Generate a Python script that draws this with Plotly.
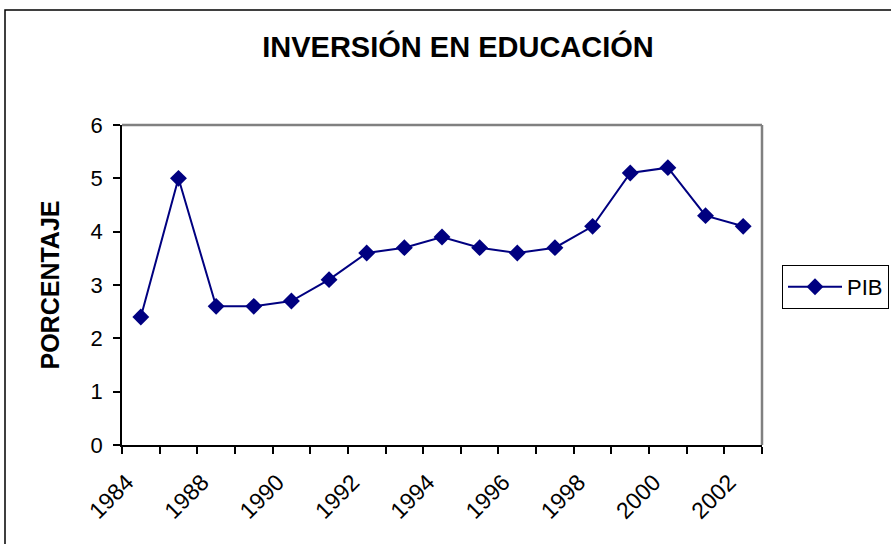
import plotly.graph_objects as go

years = ["1984", "1986", "1988", "1989", "1990", "1991", "1992", "1993", "1994",
         "1995", "1996", "1997", "1998", "1999", "2000", "2001", "2002"]
pib = [2.4, 5.0, 2.6, 2.6, 2.7, 3.1, 3.6, 3.7, 3.9, 3.7, 3.6, 3.7, 4.1, 5.1, 5.2, 4.3, 4.1]
tick_text = [y if i % 2 == 0 else "" for i, y in enumerate(years)]

W, H = 891, 544
L, R, T, B = 122, 129, 125, 99
pw, ph = W - L - R, H - T - B

def px(xp):
    return (xp - L) / pw

def py(yp):
    return (H - B - yp) / ph

fig = go.Figure()
fig.add_trace(go.Scatter(
    x=years, y=pib, name="PIB", mode="lines+markers",
    line=dict(color="#000080", width=2),
    marker=dict(symbol="diamond", size=13, color="#000080"),
))

font = "Liberation Sans, Arial, sans-serif"
fig.update_layout(
    width=W, height=H,
    margin=dict(l=L, r=R, t=T, b=B, autoexpand=False),
    paper_bgcolor="white", plot_bgcolor="white",
    font=dict(family=font, color="black"),
    title=dict(text="<b>INVERSIÓN EN EDUCACIÓN</b>", x=458 / W, xanchor="center",
               y=1 - 47 / H, yanchor="middle", font=dict(size=29, family=font, color="black")),
    showlegend=True,
    legend=dict(x=px(782), xanchor="left", y=py(265), yanchor="top",
                bordercolor="black", borderwidth=1, bgcolor="white",
                font=dict(size=22, family=font), itemwidth=54),
    xaxis=dict(type="category", tickmode="array", tickvals=years, ticktext=tick_text,
               tickson="boundaries", ticks="outside", ticklen=7, tickcolor="black",
               tickwidth=1.5, tickangle=-45, tickfont=dict(size=23),
               ticklabelstandoff=13, ticklabelshift=-14,
               showline=True, linecolor="black", linewidth=1.5, showgrid=False,
               range=[-0.5, len(years) - 0.5]),
    yaxis=dict(range=[0, 6], dtick=1, ticks="outside", ticklen=7, tickcolor="black",
               tickwidth=1.5, tickfont=dict(size=22), ticklabelstandoff=6,
               showline=True, linecolor="black", linewidth=1.5, showgrid=False,
               zeroline=False,
               title=dict(text="<b>PORCENTAJE</b>", font=dict(size=25), standoff=24)),
    shapes=[
        dict(type="line", xref="paper", yref="paper", x0=0, x1=1, y0=1, y1=1,
             line=dict(color="#808080", width=2.5)),
        dict(type="line", xref="paper", yref="paper", x0=1, x1=1, y0=0, y1=1,
             line=dict(color="#808080", width=2.5)),
        dict(type="rect", xref="paper", yref="paper", x0=px(5), x1=px(905),
             y0=py(560), y1=py(10), line=dict(color="black", width=1.5)),
    ],
)

fig.write_html("out.html", config={"displayModeBar": False},
               post_script="document.body.style.margin='0';")
